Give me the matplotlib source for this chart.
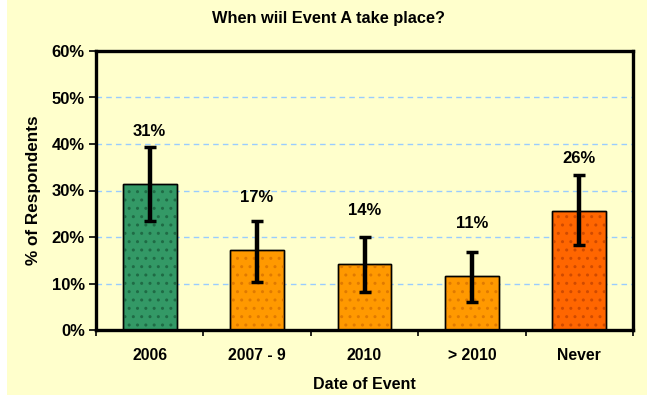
#!/usr/bin/env python
"""Survey chart: when will Event A take place"""
import matplotlib

matplotlib.use("Agg")
import matplotlib.pyplot as plt
from matplotlib.patches import Rectangle

categories = ["2006", "2007 - 9", "2010", "> 2010", "Never"]
values = [31.3, 17.1, 14.3, 11.6, 25.6]
err_low = [23.4, 10.4, 8.2, 6.0, 18.2]
err_high = [39.3, 23.5, 19.9, 16.8, 33.3]
value_labels = ["31%", "17%", "14%", "11%", "26%"]
bar_colors = ["#339966", "#FF9900", "#FF9900", "#FF9900", "#FF6600"]
dot_colors = ["#1F6B45", "#E07A00", "#E07A00", "#E07A00", "#D04A00"]

BG = "#FFFFCC"

plt.rcParams["font.family"] = ["Liberation Sans", "DejaVu Sans"]
plt.rcParams["font.weight"] = "bold"
plt.rcParams["hatch.linewidth"] = 1.0

fig = plt.figure(figsize=(6.56, 3.95), dpi=100, facecolor="white")
fig.patches.append(Rectangle((7 / 656, 0), 640 / 656, 1, transform=fig.transFigure,
                             facecolor=BG, edgecolor="none", zorder=-5))

ax = fig.add_axes([96 / 656, 65 / 395, 537 / 656, 279 / 395])
ax.set_facecolor(BG)

x = list(range(len(categories)))
ax.bar(x, values, width=0.5, color=bar_colors, edgecolor="black", linewidth=1.0, zorder=2)
# faint dot pattern over the bars
for xi, v, dc in zip(x, values, dot_colors):
    ax.bar(xi, v, width=0.5, fill=False, hatch="..", edgecolor=dc, linewidth=0, zorder=2.5)
ax.bar(x, values, width=0.5, fill=False, edgecolor="black", linewidth=1.0, zorder=2.6)

lower = [v - lo for v, lo in zip(values, err_low)]
upper = [hi - v for v, hi in zip(values, err_high)]
ax.errorbar(x, values, yerr=[lower, upper], fmt="none", ecolor="black",
            elinewidth=3.2, capsize=4, capthick=2.5, zorder=3)

for xi, v, lab in zip(x, values, value_labels):
    ax.text(xi, v + 11.3, lab, ha="center", va="center", fontsize=12, fontweight="bold")

ax.set_xlim(-0.5, len(categories) - 0.5)
ax.set_ylim(0, 60)
ax.set_yticks(range(0, 61, 10))
ax.set_yticklabels([f"{t}%" for t in range(0, 61, 10)])
ax.set_xticks(x)
ax.set_xticklabels(categories)
ax.set_xticks([i + 0.5 for i in range(-1, len(categories))], minor=True)
ax.tick_params(axis="x", which="major", length=0, pad=13, labelsize=11.3)
ax.tick_params(axis="x", which="minor", length=4, width=1.2, direction="out")
ax.tick_params(axis="y", length=5, width=1.2, direction="out", pad=3, labelsize=12)

for s in ax.spines.values():
    s.set_linewidth(2.4)
    s.set_color("black")

ax.yaxis.grid(True, color="#99CCFF", linestyle=(0, (4, 3)), linewidth=1.0, zorder=1)
ax.set_axisbelow(True)

ax.set_ylabel("% of Respondents", fontsize=12.3, fontweight="bold", labelpad=8)
ax.set_xlabel("Date of Event", fontsize=11.5, fontweight="bold", labelpad=10)
fig.text(0.5, 1 - 18 / 395, "When wiil Event A take place?", ha="center", va="center",
         fontsize=11.8, fontweight="bold")

fig.savefig("out.png", dpi=100, facecolor=fig.get_facecolor())
